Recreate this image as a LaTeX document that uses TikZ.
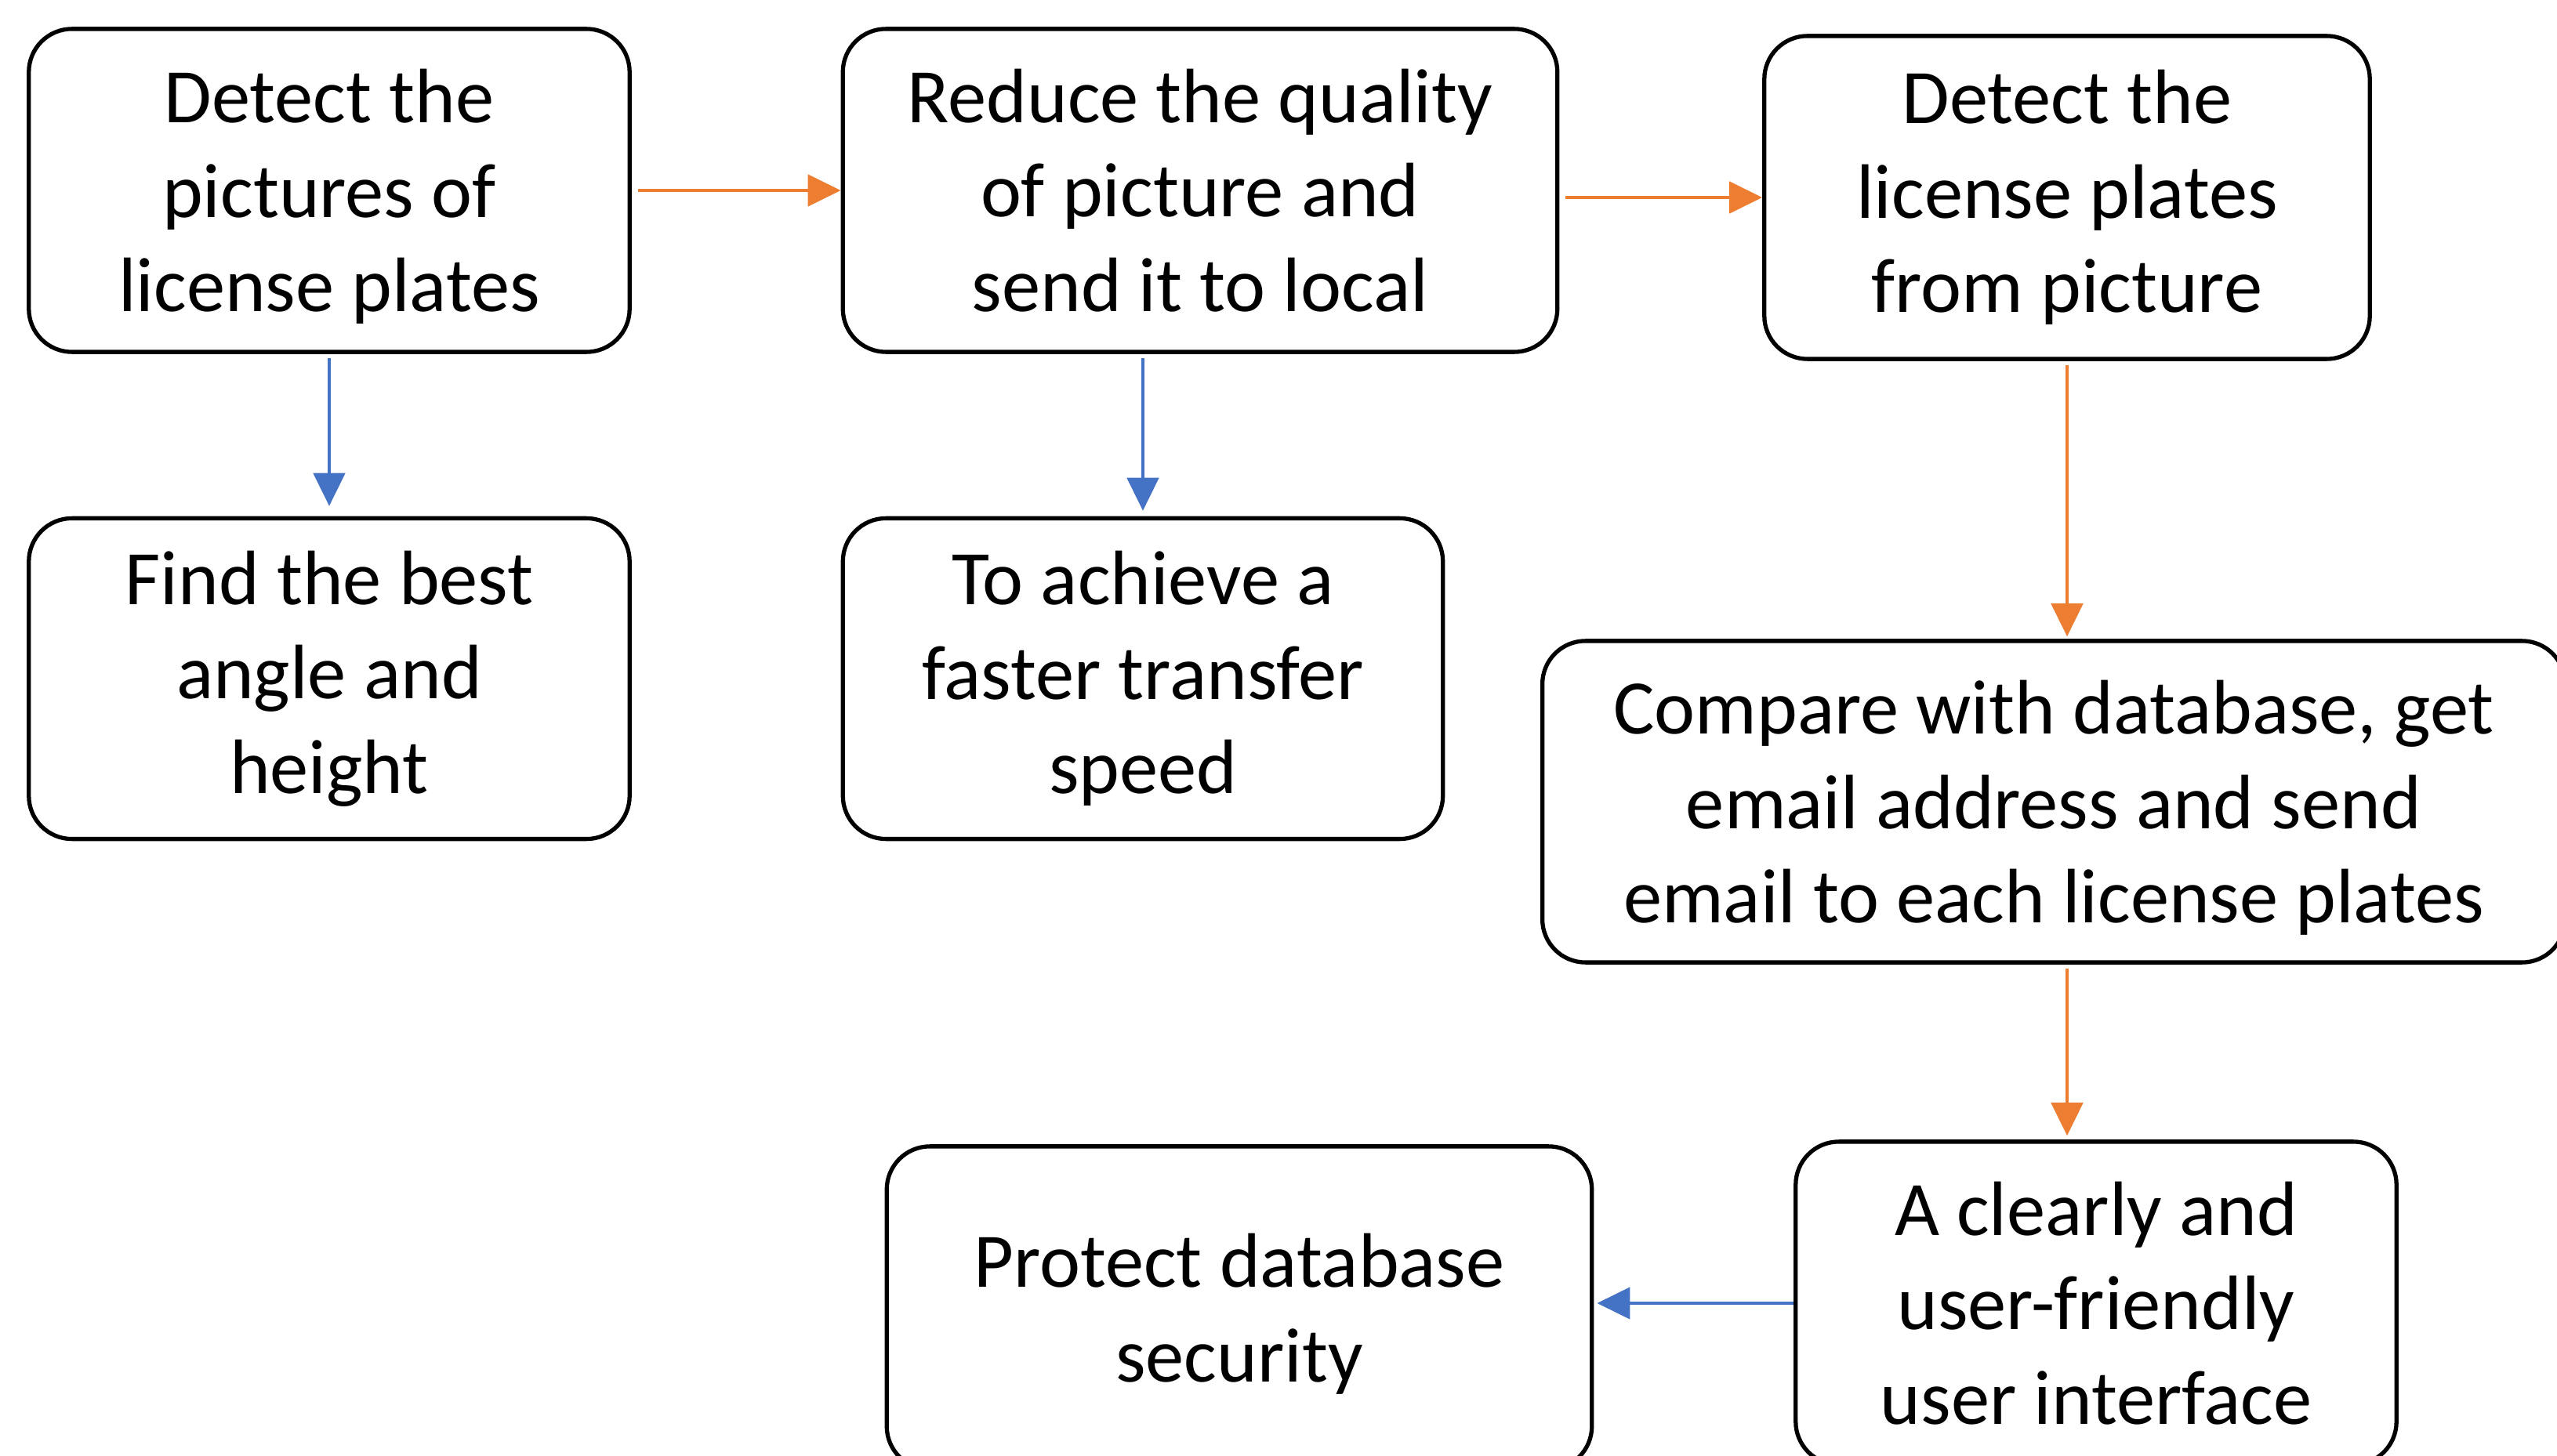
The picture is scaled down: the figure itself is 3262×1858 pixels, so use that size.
\documentclass[tikz,border=0pt]{standalone}
\usepackage{fontspec}
\setmainfont{Carlito}
\usetikzlibrary{arrows.meta}
\definecolor{arrorange}{HTML}{ED7D31}
\definecolor{arrblue}{HTML}{4472C4}
\newcommand\nodepth[1]{\raisebox{0pt}[\height][0pt]{#1}}
\begin{document}
\begin{tikzpicture}[x=0.01cm,y=-0.01cm,
  box/.style={draw=black,line width=1.5pt,rounded corners=0.55cm,align=center,
    inner sep=0pt,font=\fontsize{28}{34.3}\selectfont,fill=white},
  oarrow/.style={draw=arrorange,line width=1.4pt,-{Triangle[length=0.42cm,width=0.4cm]}},
  barrow/.style={draw=arrblue,line width=1.4pt,-{Triangle[length=0.42cm,width=0.4cm]}}]
\useasboundingbox (0,0) rectangle (3262,1858);
\clip (0,0) rectangle (3262,1858);
\fill[white] (0,0) rectangle (3262,1858);
\node[box,minimum width=7.66cm,minimum height=4.12cm] (A) at (420,243) {Detect the\\pictures of\\\nodepth{license plates}};
\node[box,minimum width=9.11cm,minimum height=4.12cm] (B) at (1531,243) {Reduce the quality\\of picture and\\send it to local};
\node[box,minimum width=7.72cm,minimum height=4.12cm] (C) at (2637,252) {Detect the\\license plates\\from picture};
\node[box,minimum width=7.66cm,minimum height=4.09cm] (D) at (420,866) {Find the best\\angle and\\height};
\node[box,minimum width=7.65cm,minimum height=4.09cm] (E) at (1458,866) {To achieve a\\faster transfer\\speed};
\node[box,minimum width=13.04cm,minimum height=4.10cm] (F) at (2620,1023) {Compare with database, get\\email address and send\\\nodepth{email to each license plates}};
\node[box,minimum width=7.66cm,minimum height=4.12cm] (G) at (2674,1663) {A clearly and\\user-friendly\\user interface};
\node[box,minimum width=8.99cm,minimum height=4.12cm] (H) at (1581,1669) {Protect database\\\nodepth{security}};
\draw[oarrow,shorten <=0.08cm] (A.east) -- (B.west);
\draw[oarrow,shorten <=0.08cm] (C.west -| B.east) -- (C.west);
\draw[barrow,shorten <=0.05cm,shorten >=0.13cm] (A.south) -- (D.north);
\draw[barrow,shorten <=0.05cm,shorten >=0.07cm] (E.north |- B.south) -- (E.north);
\draw[oarrow,shorten <=0.05cm,shorten >=0.03cm] (C.south) -- (C.south |- F.north);
\draw[oarrow,shorten <=0.05cm,shorten >=0.05cm] (C.south |- F.south) -- (C.south |- G.north);
\draw[barrow,shorten >=0.04cm] (G.west) -- (H.east |- G.west);
\end{tikzpicture}
\end{document}
